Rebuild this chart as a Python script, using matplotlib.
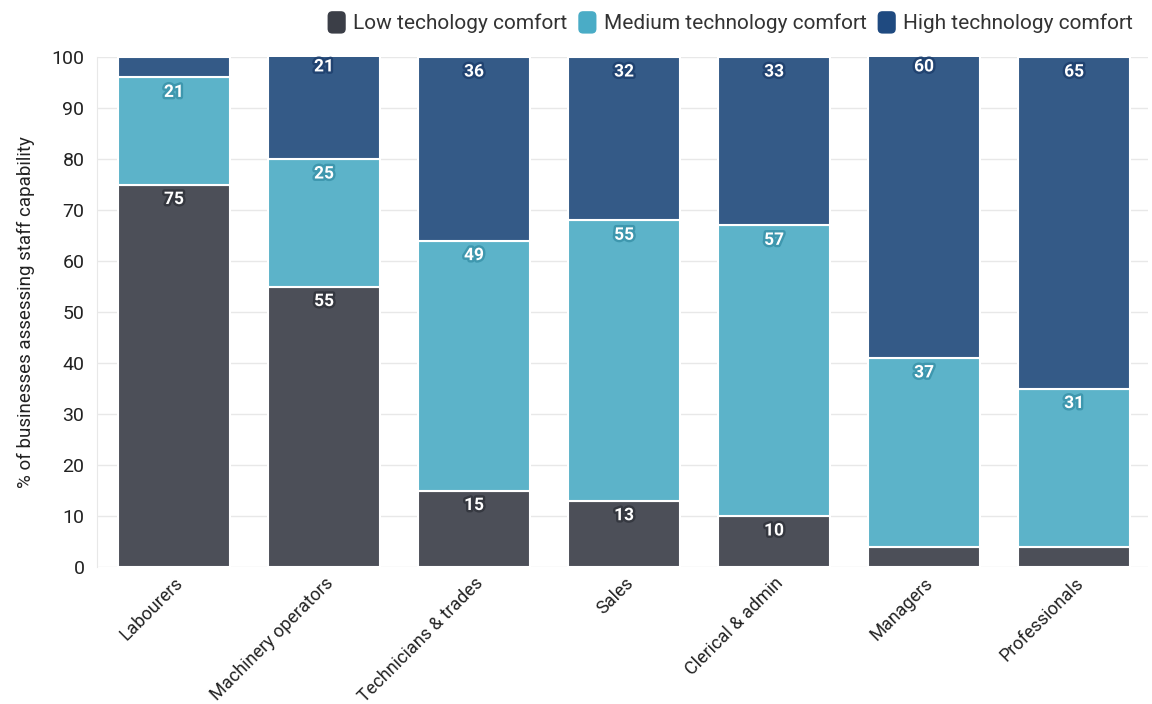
import matplotlib
matplotlib.use("Agg")
import matplotlib.pyplot as plt
import matplotlib.patheffects as pe
from matplotlib.patches import FancyBboxPatch, Patch
from matplotlib.legend_handler import HandlerPatch
import numpy as np

categories = ["Labourers", "Machinery operators", "Technicians & trades", "Sales",
              "Clerical & admin", "Managers", "Professionals"]
low = [75, 55, 15, 13, 10, 4, 4]
medium = [21, 25, 49, 55, 57, 37, 31]
high = [4, 21, 36, 32, 33, 60, 65]
series_names = ["Low techology comfort", "Medium technology comfort", "High technology comfort"]
yticks = [0, 10, 20, 30, 40, 50, 60, 70, 80, 90, 100]

bar_colors = ["#4c4f58", "#5cb3c9", "#345a87"]
legend_colors = ["#3b3e47", "#4aacc6", "#1f4a80"]
halo_colors = ["#353840", "#3e97ae", "#214371"]

plt.rcParams["font.family"] = ["Roboto", "DejaVu Sans"]

fig = plt.figure(figsize=(11.52, 7.04), dpi=100)
ax = fig.add_axes([0.0842, 0.1946, 0.912, 0.7244])

x = np.arange(len(categories))
bottoms = np.zeros(len(categories))
for vals, col, halo in zip([low, medium, high], bar_colors, halo_colors):
    vals = np.array(vals, dtype=float)
    ax.bar(x, vals, bottom=bottoms, width=0.75, color=col, edgecolor="white",
           linewidth=1.5, zorder=3)
    for xi, b, v in zip(x, bottoms, vals):
        if v >= 8:
            ax.annotate(f"{int(v)}", xy=(xi, b + v), xytext=(0, -15),
                        textcoords="offset pixels", ha="center", va="center",
                        color="white", fontsize=12.5, fontweight="bold", zorder=5,
                        annotation_clip=False,
                        path_effects=[pe.withStroke(linewidth=3.5, foreground=halo)])
    bottoms += vals

ax.set_xlim(-0.513, 6.49)
ax.set_ylim(0, 100)
ax.set_yticks(yticks)
ax.set_yticklabels([str(t) for t in yticks], fontsize=14, color="#222222")
ax.set_xticks(x)
ax.set_xticklabels(categories, rotation=45, ha="right", rotation_mode="anchor",
                   fontsize=13, color="#222222")
ax.tick_params(axis="y", length=0, pad=9)
ax.tick_params(axis="x", length=0, pad=5)
ax.grid(axis="y", color="#e8e8e8", linewidth=1, zorder=0)
ax.set_axisbelow(True)
for s in ["top", "right", "bottom"]:
    ax.spines[s].set_visible(False)
ax.spines["left"].set_color("#e8e8e8")
ax.set_ylabel("% of businesses assessing staff capability", fontsize=13.5,
              color="#222222", labelpad=12)


class RoundedHandler(HandlerPatch):
    def create_artists(self, legend, orig_handle, xdescent, ydescent, width,
                       height, fontsize, trans):
        w = height * 0.85
        h = height * 1.05
        p = FancyBboxPatch((-xdescent + (width - w) / 2,
                            -ydescent + (height - h) / 2),
                           w, h,
                           boxstyle="round,pad=0,rounding_size=3.5",
                           facecolor=orig_handle.get_facecolor(), edgecolor="none",
                           transform=trans)
        return [p]


handles = [Patch(facecolor=c, label=n) for c, n in zip(legend_colors, series_names)]
fig.legend(handles=handles, loc="upper right", bbox_to_anchor=(1.0, 1.01), ncol=3,
           frameon=False, fontsize=15, handlelength=1.2, handleheight=1.2,
           handletextpad=0.2, columnspacing=0.35, labelcolor="#333333",
           handler_map={Patch: RoundedHandler()})

fig.savefig("out.png", dpi=100, facecolor="white")
